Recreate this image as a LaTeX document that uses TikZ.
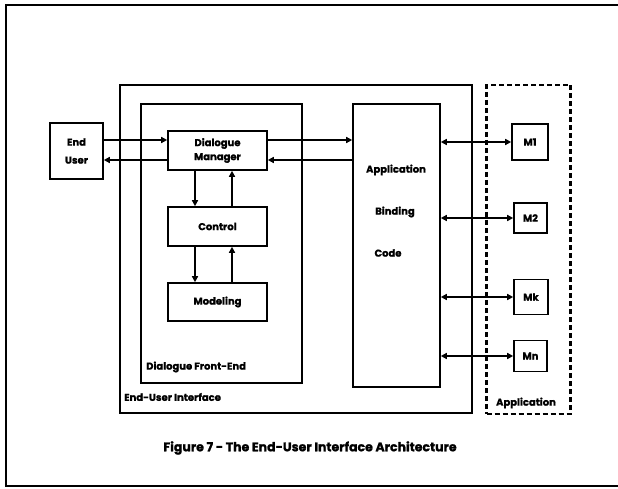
\documentclass[tikz,border=0pt]{standalone}
\usepackage{fontspec}
\setmainfont{Poppins}[BoldFeatures={FakeBold=1.2}]
\usetikzlibrary{arrows.meta}
\tikzset{
  box/.style={draw, line width=1.6pt, inner sep=0pt, align=center, font=\bfseries\fontsize{10}{14}\selectfont},
  lbl/.style={inner sep=0pt, font=\bfseries\fontsize{10}{12}\selectfont},
  arr/.style={line width=1.6pt, -{Triangle[length=6pt,width=6pt]}},
  darr/.style={line width=1.6pt, {Triangle[length=6pt,width=6pt]}-{Triangle[length=6pt,width=6pt]}}
}
\begin{document}
\begin{tikzpicture}[x=1pt,y=-1pt]
\useasboundingbox (0,0) rectangle (618,489);
% outer frame
\draw[line width=2.4pt] (618,5) -- (6,5) -- (6,486) -- (618,486);
% containers
\node[box, minimum width=352, minimum height=328] (eui) at (296,249) {};
\node[box, minimum width=161, minimum height=279] (dfe) at (221.5,243.5) {};
\node[box, minimum width=87, minimum height=283] (abc) at (396.5,245.5) {};
\node[draw, line width=2.2pt, dash pattern=on 5pt off 3pt, minimum width=84, minimum height=329, inner sep=0pt] (app) at (528.5,249.5) {};
% boxes
\node[box, minimum width=53, minimum height=56, font=\bfseries\fontsize{10}{18}\selectfont] (eu) at (76.5,151) {End\\User};
\node[box, minimum width=99, minimum height=39] (dm) at (217.5,150.5) {Dialogue\\Manager};
\node[box, minimum width=99, minimum height=39] (ctl) at (217.5,226.5) {Control};
\node[box, minimum width=99, minimum height=38] (mod) at (217.5,302) {Modeling};
\node[box, minimum width=36, minimum height=36] (m1) at (530,142) {M1};
\node[box, minimum width=33, minimum height=30] (m2) at (530.5,218) {M2};
\node[box, minimum width=34, minimum height=35] (mk) at (531,297) {Mk};
\node[box, minimum width=33, minimum height=31] (mn) at (530.5,356) {Mn};
% labels
\node[lbl, anchor=center] (t1) at (396,170) {Application};
\node[lbl, anchor=center] (t2) at (395,212) {Binding};
\node[lbl, anchor=center] (t3) at (388,253) {Code};
\node[lbl, anchor=west] (ldfe) at (146,367) {Dialogue Front-End};
\node[lbl, anchor=west] (leui) at (124,397) {End-User Interface};
\node[lbl, anchor=center] (lapp) at (526,403) {Application};
\node[inner sep=0pt, font=\bfseries\fontsize{12.5}{14}\selectfont] (cap) at (310,448) {Figure 7 - The End-User Interface Architecture};
% connectors
\draw[arr] (eu.east |- 0,140) -- (dm.west |- 0,140);
\draw[arr] (dm.west |- 0,160) -- (eu.east |- 0,160);
\draw[arr] (dm.east |- 0,140) -- (abc.west |- 0,140);
\draw[arr] (abc.west |- 0,160) -- (dm.east |- 0,160);
\draw[arr] (dm.south -| 195,0) -- (ctl.north -| 195,0);
\draw[arr] (ctl.north -| 232,0) -- (dm.south -| 232,0);
\draw[arr] (ctl.south -| 195,0) -- (mod.north -| 195,0);
\draw[arr] (mod.north -| 232,0) -- (ctl.south -| 232,0);
\draw[darr] (abc.east |- m1.west) -- (m1.west);
\draw[darr] (abc.east |- m2.west) -- (m2.west);
\draw[darr] (abc.east |- mk.west) -- (mk.west);
\draw[darr] (abc.east |- mn.west) -- (mn.west);
\end{tikzpicture}
\end{document}
